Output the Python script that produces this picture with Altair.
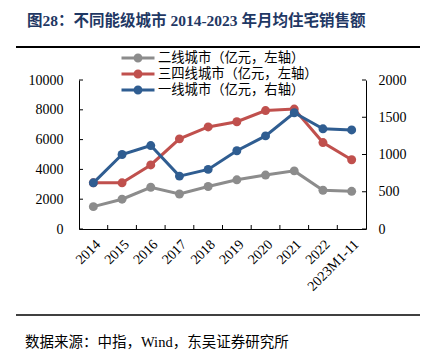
import altair as alt
import pandas as pd

years = ["2014", "2015", "2016", "2017", "2018", "2019", "2020", "2021", "2022", "2023M1-11"]
tier2 = [1500, 2000, 2800, 2350, 2850, 3300, 3620, 3900, 2600, 2530]
tier34 = [3100, 3100, 4300, 6050, 6850, 7200, 7950, 8050, 5800, 4650]
tier1 = [620, 1000, 1120, 710, 800, 1050, 1250, 1560, 1345, 1330]
series_names = ["二线城市（亿元，左轴）", "三四线城市（亿元，左轴）", "一线城市（亿元，右轴）"]
colors = ["#8c8c8c", "#c0504d", "#2f5d91"]
left_ticks = [0, 2000, 4000, 6000, 8000, 10000]
right_ticks = [0, 500, 1000, 1500, 2000]
title_text = "图28：不同能级城市 2014-2023 年月均住宅销售额"
source_text = "数据来源：中指，Wind，东吴证券研究所"

FONT = "'Liberation Serif', 'Noto Sans CJK SC'"
W, H = 287, 149

rows = []
for name, vals in zip(series_names, [tier2, tier34, tier1]):
    for yr, v in zip(years, vals):
        rows.append({"year": yr, "series": name, "value": v})
df = pd.DataFrame(rows)
left_df = df[df.series != series_names[2]]
right_df = df[df.series == series_names[2]]

xscale = alt.Scale(type="band", domain=years, paddingInner=0, paddingOuter=0)
x_axis = alt.Axis(title=None, labelAngle=-45, ticks=False, domainColor="black",
                  labelFont=FONT, labelFontSize=14, labelColor="black", labelPadding=8, grid=False)
x_enc = alt.X("year:N", scale=xscale, sort=years, bandPosition=0.5, axis=x_axis)

legend_path = ("M-1,0L1,0"
               "M-0.18,0A0.18,0.18,0,1,1,0.18,0A0.18,0.18,0,1,1,-0.18,0"
               "M-0.09,0A0.09,0.09,0,1,1,0.09,0A0.09,0.09,0,1,1,-0.09,0")
legend = alt.Legend(orient="none", legendX=41, legendY=-28.5, title=None,
                    symbolType=legend_path, symbolSize=1089, symbolStrokeWidth=3,
                    labelFont=FONT, labelFontSize=13.3, labelColor="black",
                    labelOffset=2, rowPadding=2, clipHeight=13, padding=0)
color_enc = alt.Color("series:N", scale=alt.Scale(domain=series_names, range=colors),
                      sort=series_names, legend=legend)

yl = alt.Y("value:Q", scale=alt.Scale(domain=[0, 10000]),
           axis=alt.Axis(title=None, values=left_ticks, ticks=False, domainColor="black",
                         format="d", labelFont=FONT, labelFontSize=14, labelColor="black",
                         labelPadding=16, grid=False))
yr_enc = alt.Y("value:Q", scale=alt.Scale(domain=[0, 2000]),
               axis=alt.Axis(title=None, orient="right", values=right_ticks, ticks=False,
                             format="d", domainColor="black", labelFont=FONT, labelFontSize=14,
                             labelColor="black", labelPadding=12, grid=False))

pt = alt.OverlayMarkDef(filled=True, size=80, opacity=1)

left_lines = alt.Chart(left_df).mark_line(strokeWidth=3, point=pt).encode(
    x=x_enc, y=yl, color=color_enc)
left_tk = alt.Chart(pd.DataFrame({"value": left_ticks})).mark_rule(
    color="black", strokeWidth=1).encode(y=yl, x=alt.value(0), x2=alt.value(4))
x_tk = alt.Chart(pd.DataFrame({"year": years[1:]})).mark_rule(
    color="black", strokeWidth=1).encode(
    x=alt.X("year:N", scale=xscale, sort=years, bandPosition=0, axis=x_axis),
    y=alt.value(H - 4), y2=alt.value(H))
left = alt.layer(left_lines, left_tk, x_tk)

right_lines = alt.Chart(right_df).mark_line(strokeWidth=3, point=pt).encode(
    x=x_enc, y=yr_enc, color=color_enc)
right_tk = alt.Chart(pd.DataFrame({"value": right_ticks})).mark_rule(
    color="black", strokeWidth=1).encode(y=yr_enc, x=alt.value(W - 4), x2=alt.value(W))
right = alt.layer(right_lines, right_tk)

one = pd.DataFrame({"t": [0]})
title = alt.Chart(pd.DataFrame({"t": [title_text]})).mark_text(
    align="left", baseline="middle", font=FONT, fontSize=15.5, fontWeight="bold",
    color="#1f3864").encode(text="t:N", x=alt.value(-52), y=alt.value(-59))
top_line = alt.Chart(one).mark_rule(color="black", strokeWidth=2).encode(
    x=alt.value(-63), x2=alt.value(341), y=alt.value(-33))
bot_line = alt.Chart(one).mark_rule(color="black", strokeWidth=1.5).encode(
    x=alt.value(-63), x2=alt.value(341), y=alt.value(235))
source = alt.Chart(pd.DataFrame({"t": [source_text]})).mark_text(
    align="left", baseline="middle", font=FONT, fontSize=14.5,
    color="black").encode(text="t:N", x=alt.value(-54), y=alt.value(263))

chart = alt.layer(left, right, title, top_line, bot_line, source).resolve_scale(
    y="independent").properties(
    width=W, height=H,
    padding={"left": 71, "top": 72, "right": 54, "bottom": 122},
    autosize=alt.AutoSizeParams(type="none")).configure_view(stroke=None)

chart.save("out.html", embed_options={"renderer": "svg", "actions": False})
